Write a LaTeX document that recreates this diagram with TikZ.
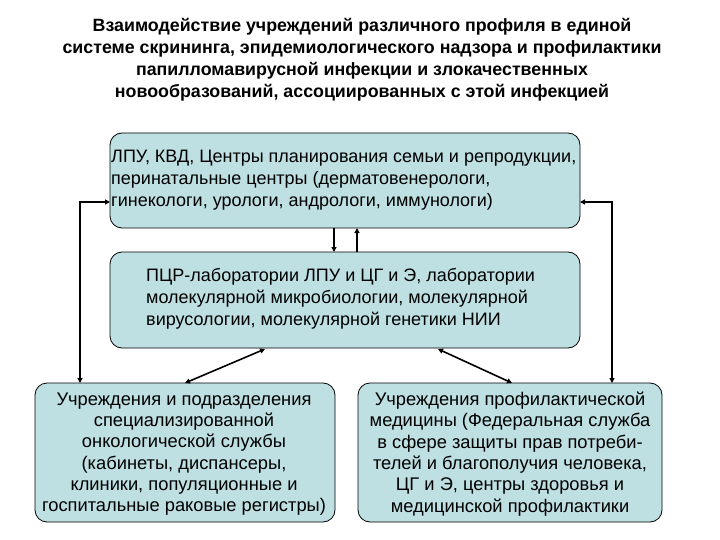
\documentclass[tikz,border=0pt]{standalone}
\usepackage{fontspec}
\setmainfont{Liberation Sans}
\usetikzlibrary{arrows.meta}
\definecolor{boxfill}{RGB}{190,224,226}
\begin{document}
\begin{tikzpicture}[x=1pt,y=-1pt,
  bx/.style={draw=black,line width=0.8pt,fill=boxfill,rounded corners=12pt,inner sep=0pt},
  tx/.style={font=\fontsize{18}{22}\selectfont,align=left,inner sep=0pt},
  tc/.style={font=\fontsize{18.3}{21.3}\selectfont,align=center,inner sep=0pt},
  ar/.style={line width=1.6pt,-{Triangle[length=5pt,width=5pt]}},
  dar/.style={line width=1.6pt,{Triangle[length=5pt,width=5pt]}-{Triangle[length=5pt,width=5pt]}}]
\useasboundingbox (0,0) rectangle (720,540);
\node[font=\bfseries\fontsize{17.8}{22}\selectfont,align=center] (title) at (362,60) {Взаимодействие учреждений различного профиля в единой\\системе скрининга, эпидемиологического надзора и профилактики\\папилломавирусной инфекции и злокачественных\\новообразований, ассоциированных с этой инфекцией};
\draw[bx] (110,133) rectangle (580,228);
\node[tx,anchor=north west] (t1) at (111,150) {ЛПУ, КВД, Центры планирования семьи и репродукции,\\перинатальные центры (дерматовенерологи,\\гинекологи, урологи, андрологи, иммунологи)};
\draw[bx] (110,252) rectangle (580,348);
\node[tx,anchor=north west] (t2) at (146,268) {ПЦР-лаборатории ЛПУ и ЦГ и Э, лаборатории\\молекулярной микробиологии, молекулярной\\вирусологии, молекулярной генетики НИИ};
\draw[bx] (35,383) rectangle (335,522);
\node[tc] (t3) at (184,454) {Учреждения и подразделения\\специализированной\\онкологической службы\\(кабинеты, диспансеры,\\клиники, популяционные и\\госпитальные раковые регистры)};
\draw[bx] (358,383) rectangle (662,522);
\node[tc] (t4) at (510,454) {Учреждения профилактической\\медицины (Федеральная служба\\в сфере защиты прав потреби-\\телей и благополучия человека,\\ЦГ и Э, центры здоровья и\\медицинской профилактики};
\coordinate (a1) at (334,228); \coordinate (a2) at (334,252);
\coordinate (b1) at (357,252); \coordinate (b2) at (357,228);
\draw[ar] (a1) -- (a2);
\draw[ar] (b1) -- (b2);
\coordinate (l1) at (110,202); \coordinate (l2) at (80,383);
\draw[dar] (l2) -- (80,202) -- (l1);
\coordinate (r1) at (580,202); \coordinate (r2) at (612,383);
\draw[dar] (r2) -- (612,202) -- (r1);
\coordinate (d1) at (265,349); \coordinate (d2) at (185,383);
\draw[dar] (d1) -- (d2);
\coordinate (e1) at (438,349); \coordinate (e2) at (512,383);
\draw[dar] (e1) -- (e2);
\end{tikzpicture}
\end{document}
